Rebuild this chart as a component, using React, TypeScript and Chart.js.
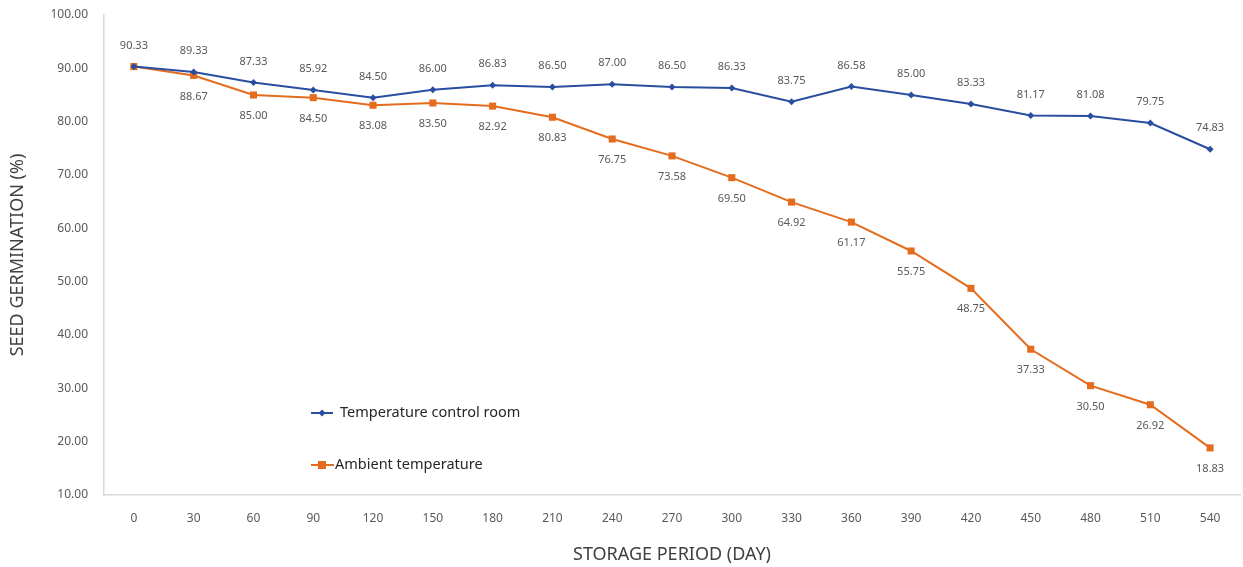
import React, { useEffect, useRef } from "react";
import { Chart, registerables } from "chart.js";

Chart.register(...registerables);

const days = ["0", "30", "60", "90", "120", "150", "180", "210", "240", "270", "300", "330", "360", "390", "420", "450", "480", "510", "540"];
const controlRoom = [90.33, 89.33, 87.33, 85.92, 84.5, 86.0, 86.83, 86.5, 87.0, 86.5, 86.33, 83.75, 86.58, 85.0, 83.33, 81.17, 81.08, 79.75, 74.83];
const ambient = [90.33, 88.67, 85.0, 84.5, 83.08, 83.5, 82.92, 80.83, 76.75, 73.58, 69.5, 64.92, 61.17, 55.75, 48.75, 37.33, 30.5, 26.92, 18.83];
const seriesNames = ["Temperature control room", "Ambient temperature"];
const yTicks = [10, 20, 30, 40, 50, 60, 70, 80, 90, 100];

const BLUE = "#2A4E9F";
const ORANGE = "#E46C1E";
const TEXT = "#595959";
const FONT = "'Noto Sans', sans-serif";

const labelPlugin = {
  id: "valueLabels",
  afterDatasetsDraw(chart: any) {
    const ctx = chart.ctx;
    ctx.save();
    ctx.font = `11px ${FONT}`;
    ctx.fillStyle = TEXT;
    ctx.textAlign = "center";
    ctx.textBaseline = "middle";
    chart.data.datasets.forEach((ds: any, di: number) => {
      const meta = chart.getDatasetMeta(di);
      meta.data.forEach((pt: any, i: number) => {
        if (di === 1 && i === 0) return;
        const v = ds.data[i] as number;
        const dy = di === 0 ? -21 : 21;
        ctx.fillText(v.toFixed(2), pt.x, pt.y + dy);
      });
    });
    ctx.restore();
  },
};

const legendPlugin = {
  id: "innerLegend",
  afterDraw(chart: any) {
    const ctx = chart.ctx;
    ctx.save();
    ctx.font = `14.5px ${FONT}`;
    ctx.textBaseline = "middle";
    ctx.textAlign = "left";
    let y = 413;
    ctx.strokeStyle = BLUE;
    ctx.lineWidth = 2;
    ctx.beginPath();
    ctx.moveTo(311, y);
    ctx.lineTo(333, y);
    ctx.stroke();
    ctx.fillStyle = BLUE;
    ctx.beginPath();
    ctx.moveTo(322, y - 3.5);
    ctx.lineTo(325.5, y);
    ctx.lineTo(322, y + 3.5);
    ctx.lineTo(318.5, y);
    ctx.closePath();
    ctx.fill();
    ctx.fillStyle = "#262626";
    ctx.fillText(seriesNames[0], 340, y);
    y = 465;
    ctx.strokeStyle = ORANGE;
    ctx.beginPath();
    ctx.moveTo(311, y);
    ctx.lineTo(334, y);
    ctx.stroke();
    ctx.fillStyle = ORANGE;
    ctx.fillRect(318, y - 4, 8, 8);
    ctx.fillStyle = "#262626";
    ctx.fillText(seriesNames[1], 335, y);
    ctx.restore();
  },
};

export default function App() {
  const ref = useRef<HTMLCanvasElement>(null);
  useEffect(() => {
    document.body.style.margin = "0";
    const chart = new Chart(ref.current!, {
      type: "line",
      data: {
        labels: days,
        datasets: [
          {
            label: seriesNames[0],
            data: controlRoom,
            borderColor: BLUE,
            backgroundColor: BLUE,
            borderWidth: 2,
            pointStyle: "rectRot",
            pointRadius: 3.5,
            pointBorderWidth: 0,
            tension: 0,
          },
          {
            label: seriesNames[1],
            data: ambient,
            borderColor: ORANGE,
            backgroundColor: ORANGE,
            borderWidth: 2,
            pointStyle: "rect",
            pointRadius: 5,
            pointBorderWidth: 0,
            tension: 0,
          },
        ],
      },
      options: {
        animation: false,
        responsive: false,
        maintainAspectRatio: false,
        layout: { autoPadding: false, padding: { left: 0, right: 3, top: 15, bottom: 0 } },
        plugins: { legend: { display: false }, tooltip: { enabled: false } },
        scales: {
          x: {
            offset: true,
            grid: { display: false, drawTicks: false },
            border: { display: true, color: "#D9D9D9", width: 1.5 },
            ticks: { color: TEXT, font: { family: FONT, size: 12 }, padding: 16, maxRotation: 0 },
            title: {
              display: true,
              text: "STORAGE PERIOD (DAY)",
              color: "#404040",
              font: { family: FONT, size: 18 },
              padding: { top: 10, bottom: 1 },
            },
            afterFit(scale: any) {
              scale.height = 72;
            },
          },
          y: {
            min: 10,
            max: 100,
            afterBuildTicks(scale: any) {
              scale.ticks = yTicks.map((v) => ({ value: v }));
            },
            grid: { display: false, drawTicks: false },
            border: { display: true, color: "#D9D9D9", width: 1.5 },
            ticks: {
              color: TEXT,
              font: { family: FONT, size: 12 },
              padding: 16,
              callback: (v: any) => Number(v).toFixed(2),
            },
            title: {
              display: true,
              text: "SEED GERMINATION (%)",
              color: "#404040",
              font: { family: FONT, size: 18 },
              padding: { top: 7, bottom: 10 },
            },
            afterFit(scale: any) {
              scale.width = 104;
              scale.paddingTop = 0;
              scale.paddingBottom = 0;
            },
          },
        },
      },
      plugins: [labelPlugin, legendPlugin],
    });
    return () => chart.destroy();
  }, []);
  return (
    <div style={{ position: "fixed", left: 0, top: 0, width: 1243, height: 567, background: "#fff" }}>
      <canvas ref={ref} width={1243} height={567} style={{ width: 1243, height: 567 }} />
    </div>
  );
}
